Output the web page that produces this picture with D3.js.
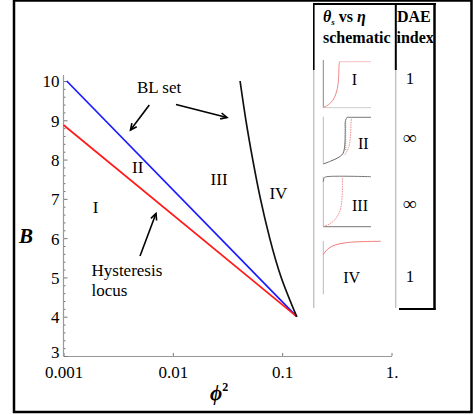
<!DOCTYPE html>
<html>
<head>
<meta charset="utf-8">
<script src="https://cdn.jsdelivr.net/npm/d3@7"></script>
<style>
  html, body { margin: 0; padding: 0; background: #fff; }
  svg { display: block; }
  text { font-family: "Liberation Serif", "Times New Roman", serif; fill: #000; }
</style>
</head>
<body>
<svg id="chart" width="473" height="415"></svg>
<script>
// ---------- data ----------
const xTickValues = [0.001, 0.01, 0.1, 1];
const xTickLabels = ["0.001", "0.01", "0.1", "1."];
const yTickValues = [3, 4, 5, 6, 7, 8, 9, 10];

// Hysteresis locus (red)
const hystPhi2 = [0.001, 0.136];
const hystB = [8.88, 4];
// BL set, lower branch (blue)
const blLowPhi2 = [0.00107, 0.136];
const blLowB = [10, 4];
// BL set, upper branch (black)
const blHighPhi2 = [0.0412, 0.0466, 0.0538, 0.0633, 0.0769, 0.098, 0.136];
const blHighB = [10, 9, 8, 7, 6, 5, 4];

// Region labels (data coordinates)
const regionNames = ["I", "II", "III", "IV"];
const regionPhi2 = [0.00197, 0.00477, 0.0265, 0.0923];
const regionB = [6.79, 7.82, 7.50, 7.16];

// Table
const schematicLabels = ["I", "II", "III", "IV"];
const daeIndex = ["1", "\u221E", "\u221E", "1"];

// ---------- drawing ----------
const svg = d3.select("#chart");

const x = d3.scaleLog().domain([0.001, 1]).range([63.5, 391.5]);
const y = d3.scaleLinear().domain([3, 10]).range([356, 81]);

// outer frame
svg.append("rect").attr("x", 14).attr("y", 0.5).attr("width", 457.5).attr("height", 411.5)
  .attr("fill", "none").attr("stroke", "#000").attr("stroke-width", 2.5);

// axes
const axisColor = "#999";
const gx = svg.append("g").attr("transform", `translate(0,${y(3)})`)
  .call(d3.axisBottom(x).tickValues(xTickValues).tickSizeInner(-3).tickSizeOuter(0)
    .tickFormat((d, i) => xTickLabels[i]).tickPadding(6));
gx.select(".domain").attr("stroke", axisColor).attr("stroke-width", 1.2);
gx.selectAll(".tick line").attr("stroke", "#777");
gx.selectAll(".tick text").attr("font-size", 17).attr("font-family", "Liberation Serif").attr("fill", "#000").attr("dy", "0.95em");

const yMinor = d3.range(3, 10.01, 0.2).filter(v => Math.abs(v - Math.round(v)) > 1e-6);
const gyMinor = svg.append("g").attr("transform", `translate(${x(0.001)},0)`)
  .call(d3.axisLeft(y).tickValues(yMinor).tickSizeInner(-2).tickSizeOuter(0).tickFormat(""));
gyMinor.select(".domain").remove();
gyMinor.selectAll(".tick line").attr("stroke", "#777");

const gy = svg.append("g").attr("transform", `translate(${x(0.001)},0)`)
  .call(d3.axisLeft(y).tickValues(yTickValues).tickFormat(d3.format("d"))
    .tickSizeInner(-4).tickSizeOuter(0).tickPadding(4));
gy.select(".domain").remove();
gy.selectAll(".tick line").attr("stroke", "#777");
gy.selectAll(".tick text").attr("font-size", 17).attr("font-family", "Liberation Serif").attr("fill", "#000")
  .attr("dy", d => d === 3 ? "0.1em" : "0.35em");
svg.append("line").attr("x1", x(0.001)).attr("x2", x(0.001)).attr("y1", y(3)).attr("y2", y(10.15))
  .attr("stroke", axisColor).attr("stroke-width", 1.2);

// axis labels
svg.append("text").attr("x", 26).attr("y", 243).attr("text-anchor", "middle")
  .attr("font-size", 21).attr("font-weight", "bold").attr("font-style", "italic").text("B");
const xl = svg.append("text").attr("x", 210).attr("y", 400).attr("font-size", 21)
  .attr("font-weight", "bold").attr("font-style", "italic");
xl.append("tspan").text("\u03D5");
xl.append("tspan").attr("font-size", 12).attr("dy", -9).attr("font-style", "normal").text("2");

// curves
const line = d3.line().x(d => x(d[0])).y(d => y(d[1]));
const lineSmooth = d3.line().x(d => x(d[0])).y(d => y(d[1])).curve(d3.curveNatural);
svg.append("path").attr("d", line(d3.zip(blLowPhi2, blLowB)))
  .attr("fill", "none").attr("stroke", "#1a1aff").attr("stroke-width", 1.7);
svg.append("path").attr("d", line(d3.zip(hystPhi2, hystB)))
  .attr("fill", "none").attr("stroke", "#ff1a1a").attr("stroke-width", 1.7);
svg.append("path").attr("d", lineSmooth(d3.zip(blHighPhi2, blHighB)))
  .attr("fill", "none").attr("stroke", "#111").attr("stroke-width", 1.7);

// region labels
regionNames.forEach((r, i) => {
  svg.append("text").attr("x", x(regionPhi2[i])).attr("y", y(regionB[i])).attr("dy", "0.35em")
    .attr("text-anchor", "middle").attr("font-size", 17).text(r);
});

// annotations
svg.append("text").attr("x", 137).attr("y", 92.5).attr("font-size", 17).text("BL set");
svg.append("text").attr("x", 91.5).attr("y", 276).attr("font-size", 17).text("Hysteresis");
svg.append("text").attr("x", 91.5).attr("y", 296).attr("font-size", 17).text("locus");

function arrow(x1, y1, x2, y2) {
  svg.append("line").attr("x1", x1).attr("y1", y1).attr("x2", x2).attr("y2", y2)
    .attr("stroke", "#000").attr("stroke-width", 1.6);
  const a = Math.atan2(y2 - y1, x2 - x1), L = 7, w = 0.45;
  const p = [[x2 - L * Math.cos(a - w), y2 - L * Math.sin(a - w)], [x2, y2],
             [x2 - L * Math.cos(a + w), y2 - L * Math.sin(a + w)]];
  svg.append("path").attr("d", d3.line()(p)).attr("fill", "none").attr("stroke", "#000").attr("stroke-width", 1.6);
}
arrow(149.3, 105, 130.5, 130);
arrow(176, 104.5, 227, 117.5);
arrow(140, 256, 156, 213.5);

// ---------- table ----------
const t = svg.append("g");
t.append("line").attr("x1", 313).attr("x2", 436).attr("y1", 4).attr("y2", 4).attr("stroke", "#000").attr("stroke-width", 2);
t.append("line").attr("x1", 313.8).attr("x2", 313.8).attr("y1", 4).attr("y2", 70).attr("stroke", "#000").attr("stroke-width", 1.6);
t.append("line").attr("x1", 313.8).attr("x2", 313.8).attr("y1", 70).attr("y2", 308).attr("stroke", "#aaa").attr("stroke-width", 1);
t.append("line").attr("x1", 395.8).attr("x2", 395.8).attr("y1", 4).attr("y2", 70).attr("stroke", "#000").attr("stroke-width", 2);
t.append("line").attr("x1", 395.8).attr("x2", 395.8).attr("y1", 70).attr("y2", 308).attr("stroke", "#aaa").attr("stroke-width", 1);
t.append("line").attr("x1", 434.5).attr("x2", 434.5).attr("y1", 4).attr("y2", 310).attr("stroke", "#000").attr("stroke-width", 2.5);
t.append("line").attr("x1", 399).attr("x2", 435.5).attr("y1", 309).attr("y2", 309).attr("stroke", "#000").attr("stroke-width", 2);

const h1 = t.append("text").attr("x", 323).attr("y", 21.5).attr("font-size", 16).attr("font-weight", "bold");
h1.append("tspan").attr("font-style", "italic").text("\u03B8");
h1.append("tspan").attr("font-size", 9).attr("dy", 3).attr("font-style", "italic").text("s");
h1.append("tspan").attr("dy", -3).text(" vs ");
h1.append("tspan").attr("font-style", "italic").text("\u03B7");
t.append("text").attr("x", 323).attr("y", 43).attr("font-size", 16).attr("font-weight", "bold").text("schematic");
t.append("text").attr("x", 397).attr("y", 21.5).attr("font-size", 16).attr("font-weight", "bold").text("DAE");
t.append("text").attr("x", 396.5).attr("y", 43).attr("font-size", 16).attr("font-weight", "bold").text("index");

// DAE index values
const daeY = [78.5, 137.5, 203, 276.5];
daeIndex.forEach((v, i) => {
  t.append("text").attr("x", 410).attr("y", daeY[i]).attr("dy", "0.35em").attr("text-anchor", "middle")
    .attr("font-size", v === "1" ? 17 : 19).attr("font-weight", v === "1" ? "normal" : "bold").text(v);
});

// schematic panels: normalized curves [0..1]
const panels = [
  { top: 61.7, bottom: 107.7, axisTop: 60, label: [354.3, 79],
    curves: [
      { pts: [[0, 0], [1, 0]], stroke: "#ccc", w: 1 },
      { pts: [[0.34, 1], [1, 1]], stroke: "#f9c0c0", w: 1 },
      { pts: [[0, 0], [0.1, 0.06], [0.2, 0.16], [0.27, 0.32], [0.31, 0.52], [0.325, 0.75], [0.33, 0.93], [0.345, 1]], stroke: "#f08a8a", w: 1, smooth: true }
    ] },
  { top: 117.3, bottom: 164, axisTop: 116.7, label: [363.3, 143.3],
    curves: [
      { pts: [[0.5, 1], [1, 1]], stroke: "#777", w: 1 },
      { pts: [[0, 0], [0.15, 0.06], [0.3, 0.13], [0.41, 0.22], [0.45, 0.4], [0.46, 0.7], [0.465, 0.93], [0.5, 1]], stroke: "#666", w: 1, smooth: true },
      { pts: [[0.45, 0.2], [0.53, 0.35], [0.57, 0.6], [0.58, 0.85], [0.59, 1]], stroke: "#f08a8a", w: 1, smooth: true, dash: "1.5,1" },
      { pts: [[0.47, 0.3], [0.47, 0.95]], stroke: "#999", w: 1, dash: "1,1" }
    ] },
  { top: 176.7, bottom: 226.7, axisTop: 176.7, label: [360, 205],
    curves: [
      { pts: [[0, 0], [1, 0]], stroke: "#777", w: 1 },
      { pts: [[0, 0.9], [0.02, 0.98], [0.07, 1], [1, 1]], stroke: "#777", w: 1, smooth: true },
      { pts: [[0, 0], [0.12, 0.05], [0.25, 0.15], [0.35, 0.32], [0.39, 0.55], [0.4, 0.8], [0.4, 1]], stroke: "#f08a8a", w: 1, smooth: true, dash: "1.5,1" }
    ] },
  { top: 241.3, bottom: 294.3, axisTop: 241, label: [351.7, 277.7],
    curves: [
      { pts: [[0, 0.75], [0.1, 0.86], [0.25, 0.93], [0.45, 0.97], [0.7, 0.99], [1.21, 1]], stroke: "#f07a7a", w: 1, smooth: true }
    ] }
];
panels.forEach((p, i) => {
  const sx = d3.scaleLinear().domain([0, 1]).range([323.3, 371]);
  const sy = d3.scaleLinear().domain([0, 1]).range([p.bottom, p.top]);
  const g = t.append("g");
  g.append("line").attr("x1", sx(0)).attr("x2", sx(0)).attr("y1", p.bottom).attr("y2", p.axisTop)
    .attr("stroke", i === 0 ? "#888" : "#bbb").attr("stroke-width", 1);
  p.curves.forEach(c => {
    const gen = d3.line().x(d => sx(d[0])).y(d => sy(d[1]));
    if (c.smooth) gen.curve(d3.curveCatmullRom);
    g.append("path").attr("d", gen(c.pts)).attr("fill", "none").attr("stroke", c.stroke)
      .attr("stroke-width", c.w).attr("stroke-dasharray", c.dash || null);
  });
  g.append("text").attr("x", p.label[0]).attr("y", p.label[1]).attr("dy", "0.35em")
    .attr("text-anchor", "middle").attr("font-size", 16).text(schematicLabels[i]);
});
</script>
</body>
</html>
